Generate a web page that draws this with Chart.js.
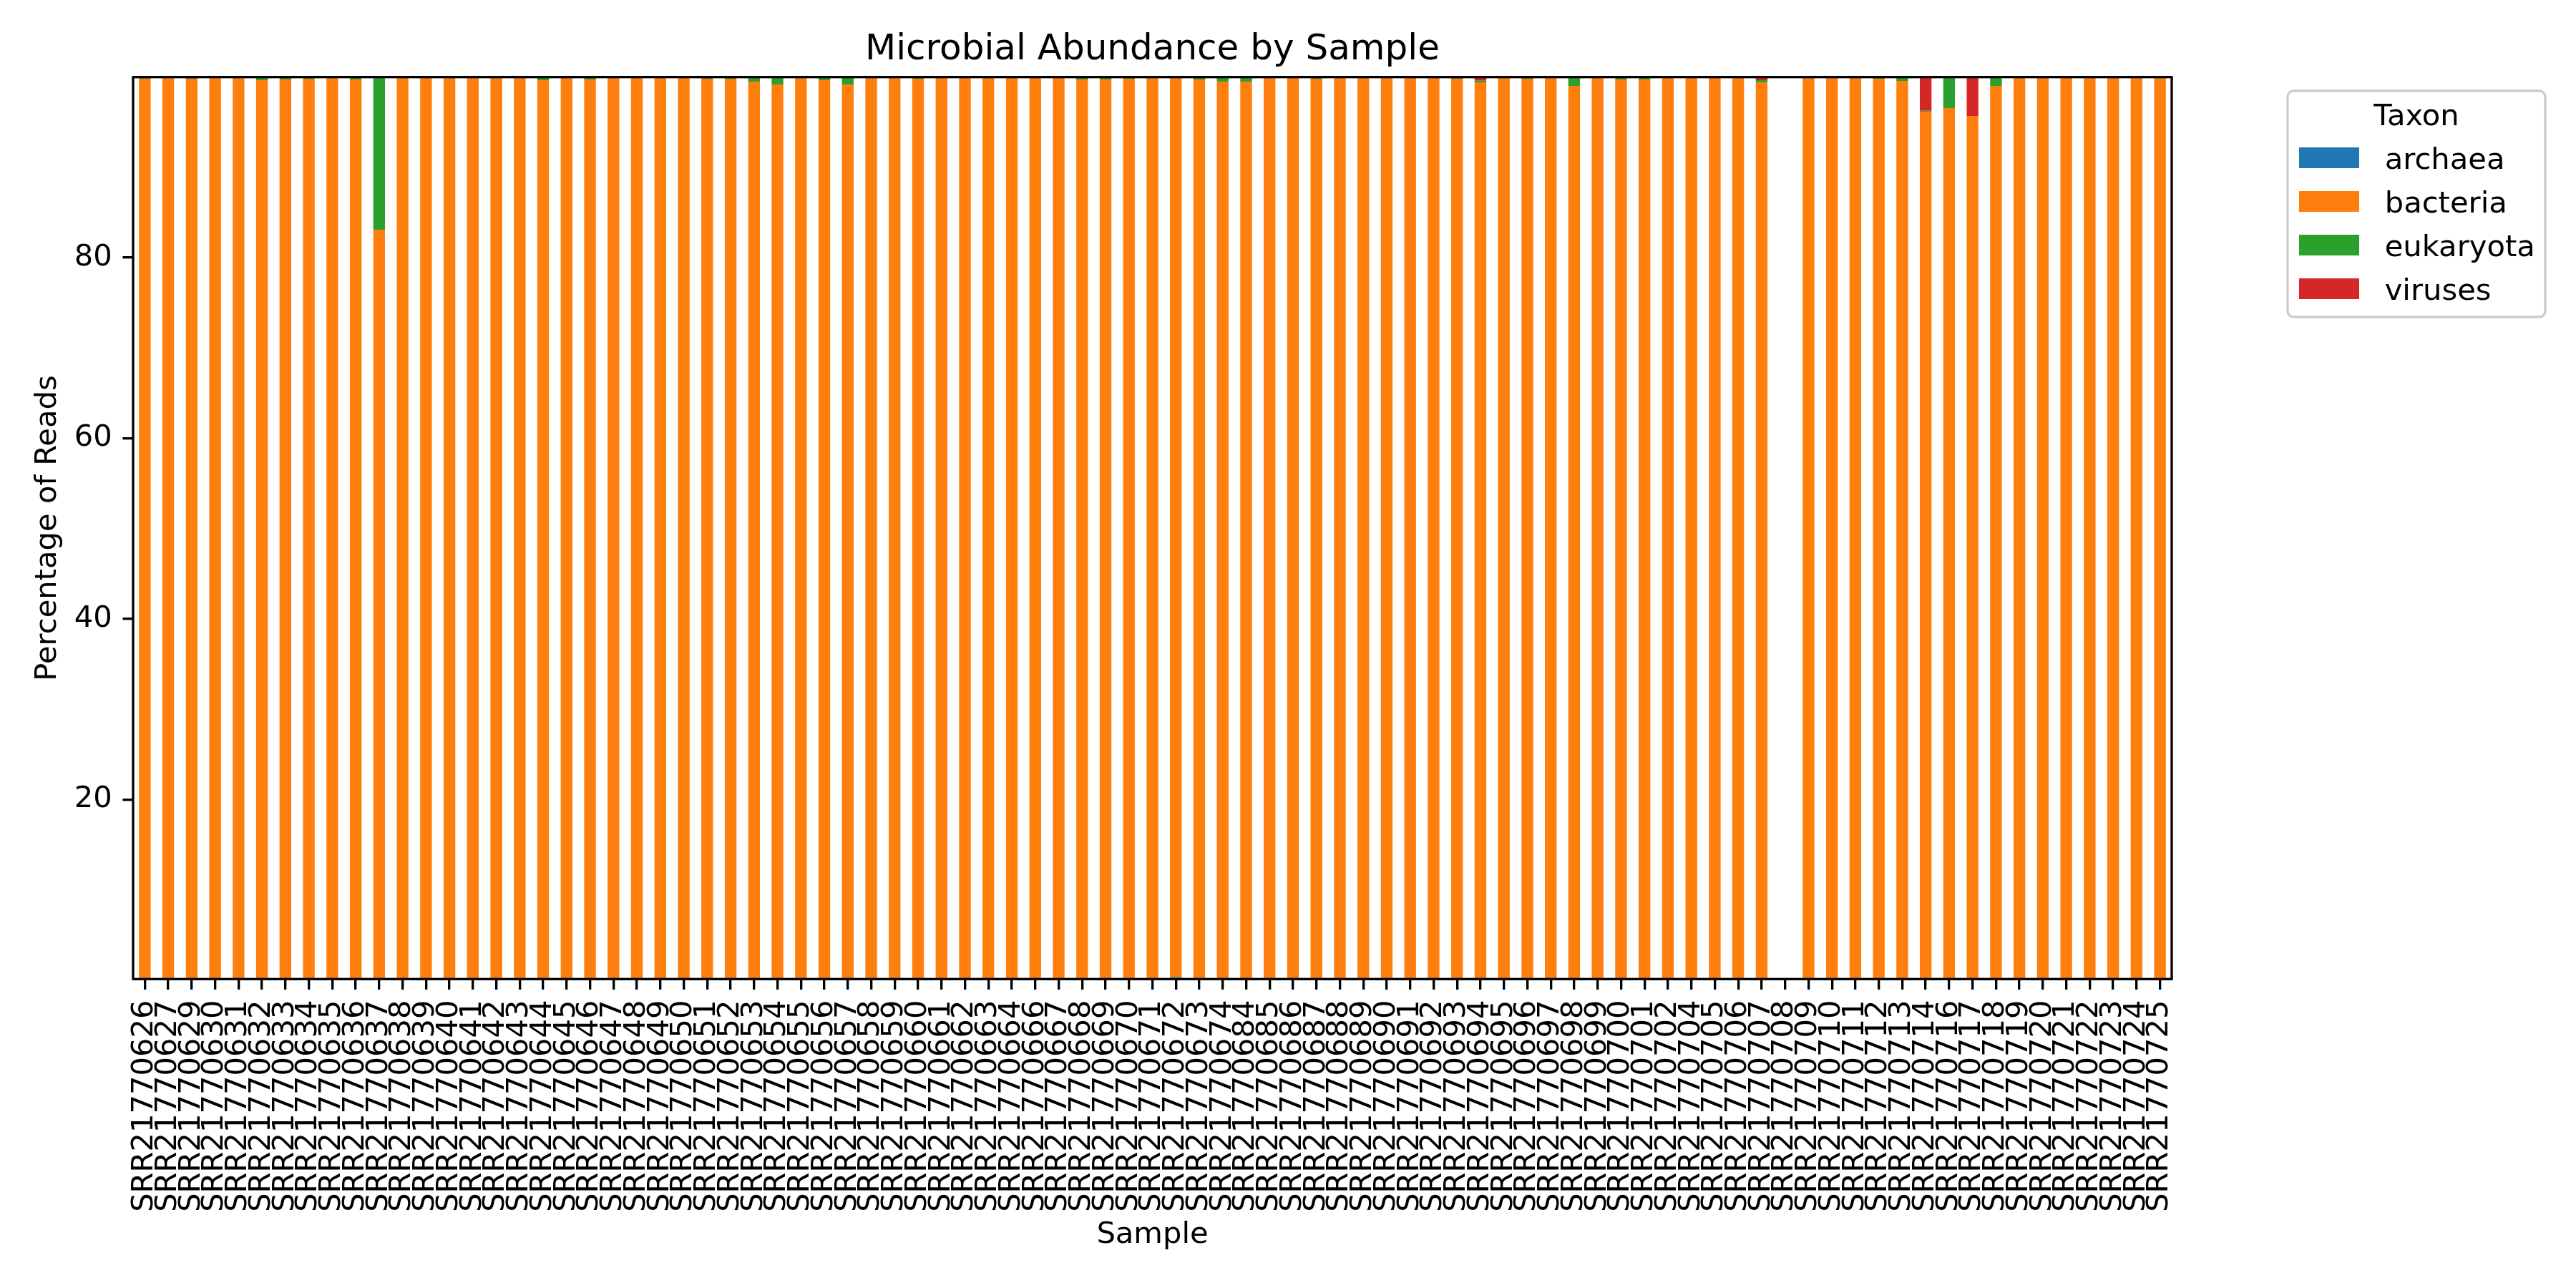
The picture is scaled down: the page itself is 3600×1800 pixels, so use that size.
<!DOCTYPE html>
<html>
<head>
<meta charset="utf-8">
<script src="https://cdn.jsdelivr.net/npm/chart.js@4.4.1/dist/chart.umd.min.js"></script>
<style>
html,body{margin:0;padding:0;background:#ffffff;}
#wrap{width:3600px;height:1800px;}
canvas{display:block;}
</style>
</head>
<body>
<div id="wrap"><canvas id="c" width="3600" height="1800"></canvas></div>
<script>
// ---------------- DATA ----------------
const samples = [
  'SRR21770626','SRR21770627','SRR21770629','SRR21770630','SRR21770631','SRR21770632','SRR21770633','SRR21770634','SRR21770635','SRR21770636',
  'SRR21770637','SRR21770638','SRR21770639','SRR21770640','SRR21770641','SRR21770642','SRR21770643','SRR21770644','SRR21770645','SRR21770646',
  'SRR21770647','SRR21770648','SRR21770649','SRR21770650','SRR21770651','SRR21770652','SRR21770653','SRR21770654','SRR21770655','SRR21770656',
  'SRR21770657','SRR21770658','SRR21770659','SRR21770660','SRR21770661','SRR21770662','SRR21770663','SRR21770664','SRR21770666','SRR21770667',
  'SRR21770668','SRR21770669','SRR21770670','SRR21770671','SRR21770672','SRR21770673','SRR21770674','SRR21770684','SRR21770685','SRR21770686',
  'SRR21770687','SRR21770688','SRR21770689','SRR21770690','SRR21770691','SRR21770692','SRR21770693','SRR21770694','SRR21770695','SRR21770696',
  'SRR21770697','SRR21770698','SRR21770699','SRR21770700','SRR21770701','SRR21770702','SRR21770704','SRR21770705','SRR21770706','SRR21770707',
  'SRR21770708','SRR21770709','SRR21770710','SRR21770711','SRR21770712','SRR21770713','SRR21770714','SRR21770716','SRR21770717','SRR21770718',
  'SRR21770719','SRR21770720','SRR21770721','SRR21770722','SRR21770723','SRR21770724','SRR21770725'
];

const archaea = [
  0,0,0,0,0,0,0,0,0,0,
  0,0,0,0,0,0,0,0,0,0,
  0,0,0,0,0,0,0,0,0,0,
  0,0,0,0,0,0,0,0,0,0,
  0,0,0,0,0.3,0,0,0,0,0,
  0,0,0,0,0,0,0,0,0,0,
  0,0,0,0,0,0,0,0,0,0,
  null,0,0,0,0,0,0,0,0,0,
  0,0,0,0,0,0,0
];

const bacteria = [
  99.82,99.98,99.82,99.97,99.96,99.66,99.74,99.82,99.98,99.74,
  83.1,99.9,99.97,99.9,99.98,99.9,99.97,99.66,99.98,99.74,
  99.97,99.9,99.98,99.9,99.82,99.82,99.5,99.18,99.97,99.66,
  99.18,99.98,99.97,99.82,99.98,99.97,99.9,99.98,99.97,99.98,
  99.74,99.74,99.82,99.97,99.68,99.74,99.5,99.5,99.98,99.97,
  99.82,99.9,99.98,99.97,99.98,99.97,99.82,99.42,99.9,99.82,
  99.9,99.03,99.9,99.74,99.74,99.98,99.97,99.98,99.97,99.42,
  null,99.97,99.9,99.9,99.82,99.58,96.18,96.57,95.7,99.02,
  99.97,99.9,99.98,99.97,99.98,99.9,99.97
];

const eukaryota = [
  0.18,0.02,0.18,0.03,0.02,0.34,0.26,0.18,0.02,0.16,
  16.9,0.1,0.03,0.1,0.02,0.1,0.03,0.34,0.02,0.26,
  0.03,0.1,0.02,0.1,0.18,0.18,0.5,0.82,0.03,0.34,
  0.82,0.02,0.03,0.18,0.02,0.03,0.1,0.02,0.03,0.02,
  0.26,0.26,0.18,0.03,0.02,0.26,0.5,0.5,0.02,0.03,
  0.18,0.1,0.02,0.03,0.02,0.03,0.18,0.18,0.1,0.18,
  0.1,0.87,0.1,0.26,0.26,0.02,0.03,0.02,0.03,0.24,
  null,0.03,0.1,0.1,0.18,0.42,0.1,3.43,0,0.98,
  0.03,0.1,0.02,0.03,0.02,0.1,0.03
];

const viruses = [
  0,0,0,0,0.02,0,0,0,0,0.1,
  0,0,0,0,0,0,0,0,0,0,
  0,0,0,0,0,0,0,0,0,0,
  0,0,0,0,0,0,0,0,0,0,
  0,0,0,0,0,0,0,0,0,0,
  0,0,0,0,0,0,0,0.4,0,0,
  0,0.1,0,0,0,0,0,0,0,0.34,
  null,0,0,0,0,0,3.72,0,4.3,0,
  0,0,0,0,0,0,0
];

const taxa = ['archaea','bacteria','eukaryota','viruses'];
const taxaColors = ['#1f77b4','#ff7f0e','#2ca02c','#d62728'];
const yTickValues = [20,40,60,80];

const chartTitle = 'Microbial Abundance by Sample';
const xTitle = 'Sample';
const yTitle = 'Percentage of Reads';
const legendTitle = 'Taxon';

// ---------------- STYLE ----------------
const FONT = "'DejaVu Sans', 'Liberation Sans', sans-serif";
const FS = 41.67;
const LW = 3.33;
const TICK = 14.6;

Chart.defaults.font.family = FONT;
Chart.defaults.color = '#000';

const seriesValues = [archaea, bacteria, eukaryota, viruses];

const framePlugin = {
  id: 'frame',
  afterDatasetsDraw(chart) {
    const {ctx, chartArea: a} = chart;
    ctx.save();
    ctx.strokeStyle = '#000';
    ctx.lineWidth = LW;
    ctx.strokeRect(a.left, a.top, a.right - a.left, a.bottom - a.top);
    ctx.restore();
  }
};

const decorPlugin = {
  id: 'decor',
  afterDraw(chart) {
    const {ctx, chartArea: a} = chart;
    ctx.save();
    // title
    ctx.fillStyle = '#000';
    ctx.font = `50px ${FONT}`;
    ctx.textAlign = 'center';
    ctx.textBaseline = 'alphabetic';
    ctx.fillText(chartTitle, (a.left + a.right) / 2, 83);

    // legend box
    const bx = 3197, by = 127, bw = 360, bh = 316, r = 8.3;
    ctx.beginPath();
    ctx.moveTo(bx + r, by);
    ctx.lineTo(bx + bw - r, by);
    ctx.arcTo(bx + bw, by, bx + bw, by + r, r);
    ctx.lineTo(bx + bw, by + bh - r);
    ctx.arcTo(bx + bw, by + bh, bx + bw - r, by + bh, r);
    ctx.lineTo(bx + r, by + bh);
    ctx.arcTo(bx, by + bh, bx, by + bh - r, r);
    ctx.lineTo(bx, by + r);
    ctx.arcTo(bx, by, bx + r, by, r);
    ctx.closePath();
    ctx.fillStyle = 'rgba(255,255,255,0.8)';
    ctx.fill();
    ctx.strokeStyle = '#cccccc';
    ctx.lineWidth = LW;
    ctx.stroke();

    ctx.fillStyle = '#000';
    ctx.font = `${FS}px ${FONT}`;
    ctx.textAlign = 'center';
    ctx.fillText(legendTitle, bx + bw / 2, 175);

    ctx.textAlign = 'left';
    chart.data.datasets.forEach((ds, i) => {
      const y = 206 + 61 * i;
      ctx.fillStyle = ds.backgroundColor;
      ctx.fillRect(3213, y, 84, 29);
      ctx.fillStyle = '#000';
      ctx.fillText(ds.label, 3332.7, y + 29.7);
    });
    ctx.restore();
  }
};

new Chart(document.getElementById('c'), {
  type: 'bar',
  data: {
    labels: samples,
    datasets: taxa.map((t, i) => ({
      label: t,
      data: seriesValues[i],
      backgroundColor: taxaColors[i],
      borderWidth: 0,
      categoryPercentage: 1.0,
      barPercentage: 0.5
    }))
  },
  options: {
    responsive: false,
    animation: false,
    devicePixelRatio: 1,
    layout: { padding: { top: 107.7, right: 565, bottom: 0, left: 0 } },
    plugins: {
      legend: { display: false },
      title: { display: false },
      tooltip: { enabled: false }
    },
    scales: {
      x: {
        stacked: true,
        offset: true,
        border: { display: false },
        grid: {
          offset: false,
          drawOnChartArea: false,
          drawTicks: true,
          tickLength: TICK,
          tickWidth: LW,
          tickColor: '#000',
          color: '#000',
          lineWidth: LW
        },
        ticks: {
          autoSkip: false,
          minRotation: 90,
          maxRotation: 90,
          padding: TICK,
          color: '#000',
          font: { family: FONT, size: FS }
        },
        title: {
          display: true,
          text: xTitle,
          color: '#000',
          font: { family: FONT, size: FS },
          padding: { top: 0, bottom: 49 }
        },
        afterFit(s) { s.height = 431.7; s.paddingLeft = 0; s.paddingRight = 0; }
      },
      y: {
        stacked: true,
        min: 0.1,
        max: 100,
        border: { display: false },
        afterBuildTicks(s) { s.ticks = yTickValues.map(v => ({ value: v })); },
        grid: {
          drawOnChartArea: false,
          drawTicks: true,
          tickLength: TICK,
          tickWidth: LW,
          tickColor: '#000',
          color: '#000',
          lineWidth: LW
        },
        ticks: {
          padding: TICK,
          color: '#000',
          font: { family: FONT, size: FS }
        },
        title: {
          display: true,
          text: yTitle,
          color: '#000',
          font: { family: FONT, size: FS },
          padding: { top: 42, bottom: 0 }
        },
        afterFit(s) { s.width = 186; s.paddingTop = 0; s.paddingBottom = 0; }
      }
    }
  },
  plugins: [framePlugin, decorPlugin]
});
</script>
</body>
</html>
